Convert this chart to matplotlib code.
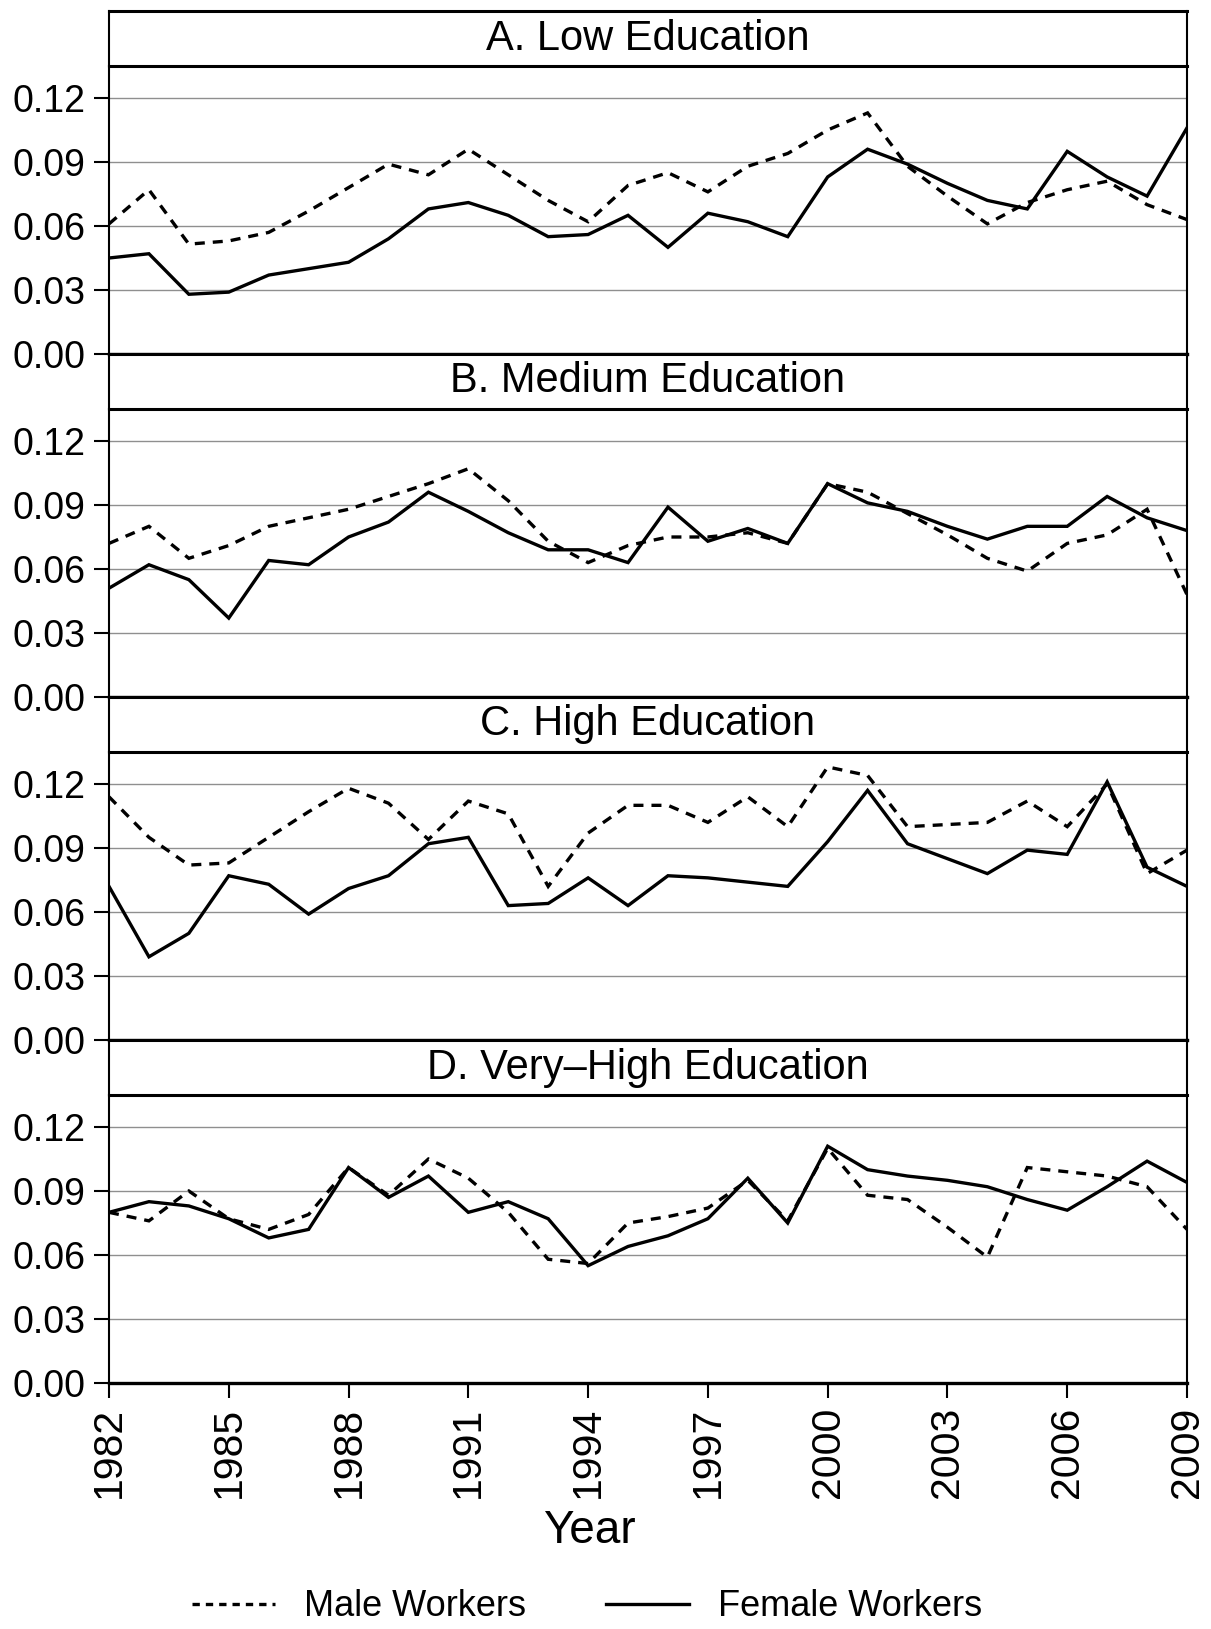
import matplotlib
matplotlib.use('Agg')
import matplotlib.pyplot as plt
from matplotlib.lines import Line2D

years = list(range(1982, 2010))
panel_titles = ["A. Low Education", "B. Medium Education",
                "C. High Education", "D. Very\u2013High Education"]

low_male = [0.061, 0.077, 0.0515, 0.053, 0.057, 0.067, 0.078, 0.089, 0.084, 0.096,
            0.084, 0.072, 0.062, 0.079, 0.085, 0.076, 0.088, 0.094, 0.105, 0.113,
            0.088, 0.074, 0.061, 0.071, 0.077, 0.081, 0.070, 0.063]
low_female = [0.045, 0.047, 0.028, 0.029, 0.037, 0.040, 0.043, 0.054, 0.068, 0.071,
              0.065, 0.055, 0.056, 0.065, 0.050, 0.066, 0.062, 0.055, 0.083, 0.096,
              0.089, 0.080, 0.072, 0.068, 0.095, 0.083, 0.074, 0.106]

med_male = [0.072, 0.080, 0.065, 0.071, 0.080, 0.084, 0.088, 0.094, 0.100, 0.107,
            0.092, 0.073, 0.063, 0.071, 0.075, 0.075, 0.077, 0.072, 0.100, 0.096,
            0.086, 0.076, 0.065, 0.059, 0.072, 0.076, 0.088, 0.048]
med_female = [0.051, 0.062, 0.055, 0.037, 0.064, 0.062, 0.075, 0.082, 0.096, 0.087,
              0.077, 0.069, 0.069, 0.063, 0.089, 0.073, 0.079, 0.072, 0.100, 0.091,
              0.087, 0.080, 0.074, 0.080, 0.080, 0.094, 0.084, 0.078]

high_male = [0.114, 0.095, 0.082, 0.083, 0.095, 0.107, 0.118, 0.111, 0.094, 0.112,
             0.106, 0.072, 0.097, 0.110, 0.110, 0.102, 0.114, 0.100, 0.128, 0.124,
             0.100, 0.101, 0.102, 0.112, 0.100, 0.120, 0.078, 0.089]
high_female = [0.072, 0.039, 0.050, 0.077, 0.073, 0.059, 0.071, 0.077, 0.092, 0.095,
               0.063, 0.064, 0.076, 0.063, 0.077, 0.076, 0.074, 0.072, 0.093, 0.117,
               0.092, 0.085, 0.078, 0.089, 0.087, 0.121, 0.081, 0.072]

vhigh_male = [0.080, 0.076, 0.090, 0.077, 0.072, 0.079, 0.101, 0.088, 0.105, 0.096,
              0.080, 0.058, 0.056, 0.075, 0.078, 0.082, 0.095, 0.076, 0.110, 0.088,
              0.086, 0.073, 0.059, 0.101, 0.099, 0.097, 0.092, 0.072]
vhigh_female = [0.080, 0.085, 0.083, 0.077, 0.068, 0.072, 0.101, 0.087, 0.097, 0.080,
                0.085, 0.077, 0.055, 0.064, 0.069, 0.077, 0.096, 0.075, 0.111, 0.100,
                0.097, 0.095, 0.092, 0.086, 0.081, 0.092, 0.104, 0.094]

male_series = [low_male, med_male, high_male, vhigh_male]
female_series = [low_female, med_female, high_female, vhigh_female]

y_ticks = [0.00, 0.03, 0.06, 0.09, 0.12]
y_tick_labels = ["0.00", "0.03", "0.06", "0.09", "0.12"]
x_ticks = [1982, 1985, 1988, 1991, 1994, 1997, 2000, 2003, 2006, 2009]

plt.rcParams['font.family'] = ['Liberation Sans', 'DejaVu Sans']

W, H = 1211, 1629
fig = plt.figure(figsize=(W / 100, H / 100), dpi=100)

left = 109 / W
right = 1187 / W
dash = (0, (3.0, 2.4))
lw = 2.4

for i in range(4):
    strip_top = 11 + 343 * i
    plot_top = 66 + 343 * i
    plot_bot = 354 + 343 * i
    ax = fig.add_axes([left, 1 - plot_bot / H, right - left, (plot_bot - plot_top) / H])
    sax = fig.add_axes([left, 1 - plot_top / H, right - left, (plot_top - strip_top) / H])

    ax.plot(years, male_series[i], color='black', lw=lw, linestyle=dash,
            solid_joinstyle='miter', dash_joinstyle='miter', zorder=3)
    ax.plot(years, female_series[i], color='black', lw=lw, linestyle='-',
            solid_joinstyle='miter', zorder=3)
    ax.set_xlim(1982, 2009)
    ax.set_ylim(0, 0.135)
    ax.set_yticks(y_ticks)
    ax.set_yticklabels(y_tick_labels)
    for yv in y_ticks[1:]:
        ax.axhline(yv, color='#8f8f8f', lw=1.0, zorder=1)
    for s in ['left', 'right']:
        ax.spines[s].set_linewidth(1.5)
    ax.spines['top'].set_linewidth(1.8)
    ax.spines['bottom'].set_linewidth(2.4)
    ax.tick_params(axis='y', length=11, width=1.5, pad=6, labelsize=27, direction='out')
    ax.set_xticks(x_ticks)
    if i == 3:
        ax.set_xticklabels([str(x) for x in x_ticks], rotation=90, va='top', ha='center')
        ax.tick_params(axis='x', length=11, width=1.5, pad=6, labelsize=29.5, direction='out')
    else:
        ax.tick_params(axis='x', length=0, labelbottom=False)

    sax.set_xticks([])
    sax.set_yticks([])
    for s in ['left', 'right']:
        sax.spines[s].set_linewidth(1.5)
    for s in ['top', 'bottom']:
        sax.spines[s].set_linewidth(2.2)
    sax.text(0.5, 0.5, panel_titles[i], transform=sax.transAxes,
             ha='center', va='center', fontsize=30)

fig.text(589 / W, 1 - 1531 / H, "Year", ha='center', va='center', fontsize=33)

handles = [Line2D([0], [0], color='black', lw=lw, linestyle=(0, (2.2, 1.8))),
           Line2D([0], [0], color='black', lw=lw, linestyle='-')]
fig.legend(handles, ["Male Workers", "Female Workers"], loc='center',
           bbox_to_anchor=(587 / W, 1 - 1607 / H), ncol=2, frameon=False,
           fontsize=26, handlelength=2.3, handletextpad=0.8, columnspacing=2.2,
           borderpad=0, borderaxespad=0)

fig.savefig('out.png', dpi=100)
